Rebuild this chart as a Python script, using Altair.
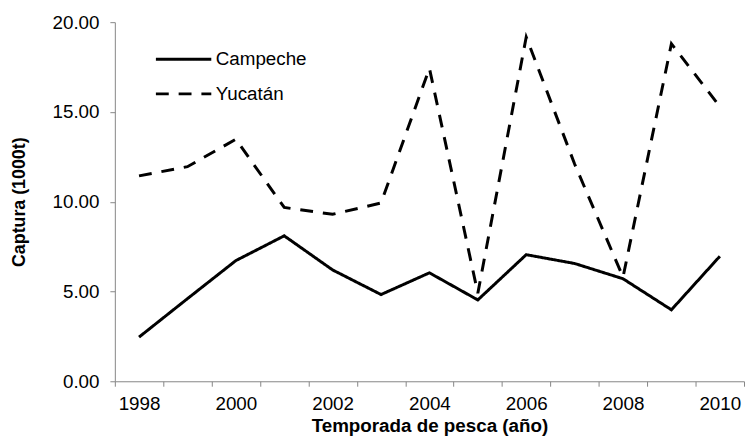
import altair as alt
import pandas as pd

years = list(range(1998, 2011))
campeche = [2.46, 4.6, 6.72, 8.10, 6.2, 4.83, 6.04, 4.53, 7.05, 6.56, 5.71, 3.98, 6.96]
yucatan = [11.44, 11.95, 13.48, 9.68, 9.3, 9.93, 17.43, 4.9, 19.17, 12.1, 5.8, 18.8, 15.3]
series_names = ["Campeche", "Yucatán"]
y_ticks = [0, 5, 10, 15, 20]

rows = []
for name, vals in zip(series_names, [campeche, yucatan]):
    for yr, v in zip(years, vals):
        rows.append({"year": yr, "value": v, "series": name})
df = pd.DataFrame(rows)

FONT = "Liberation Sans"
GRAY = "#868686"

chart = alt.Chart(df).mark_line(
    strokeWidth=3, color="black", strokeCap="butt", strokeJoin="miter"
).encode(
    x=alt.X(
        "year:O",
        scale=alt.Scale(type="band", paddingInner=0, paddingOuter=0),
        axis=alt.Axis(
            title="Temporada de pesca (año)",
            labelAngle=0,
            tickBand="extent",
            labelExpr="datum.value % 2 == 0 ? datum.label : ''",
            domainColor=GRAY,
            tickColor=GRAY,
            tickSize=5,
            labelPadding=9,
            labelFont=FONT,
            labelFontSize=19,
            labelColor="black",
            titleFont=FONT,
            titleFontSize=19,
            titleFontWeight="bold",
            titleColor="black",
            titlePadding=3,
            labelOverlap=False,
            grid=False,
        ),
    ),
    y=alt.Y(
        "value:Q",
        scale=alt.Scale(domain=[0, 20], nice=False),
        axis=alt.Axis(
            title="Captura (1000t)",
            values=y_ticks,
            format=".2f",
            grid=False,
            domainColor=GRAY,
            tickColor=GRAY,
            tickSize=5,
            labelPadding=11,
            labelFont=FONT,
            labelFontSize=19,
            labelColor="black",
            titleFont=FONT,
            titleFontSize=18,
            titleFontWeight="bold",
            titleColor="black",
            titlePadding=24,
        ),
    ),
    strokeDash=alt.StrokeDash(
        "series:N",
        scale=alt.Scale(domain=series_names, range=[[1, 0], [13, 10]]),
        legend=alt.Legend(
            title=None,
            orient="none",
            legendX=53,
            legendY=28,
            padding=0,
            rowPadding=15,
            symbolType="M-4,0H4",
            symbolSize=196,
            symbolOffset=7,
            symbolStrokeWidth=3,
            symbolStrokeColor="black",
            labelFont=FONT,
            labelFontSize=19,
            labelColor="black",
            labelOffset=23,
        ),
    ),
).properties(
    width=636,
    height=363,
    autosize=alt.AutoSizeParams(type="none"),
    padding={"left": 108, "top": 12, "right": 1, "bottom": 53},
).configure_view(stroke=None)

chart.save("out.html", embed_options={"renderer": "svg", "actions": False})
